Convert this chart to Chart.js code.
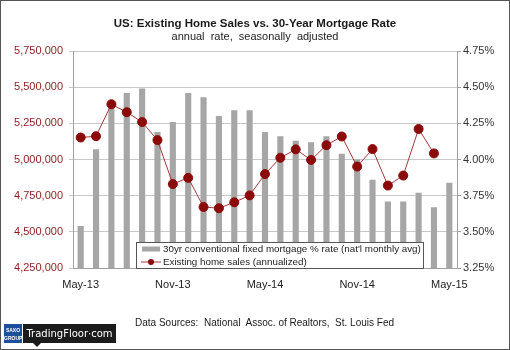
<!DOCTYPE html>
<html>
<head>
<meta charset="utf-8">
<script src="https://cdn.jsdelivr.net/npm/chart.js@4.4.1/dist/chart.umd.min.js"></script>
<style>
  html, body { margin: 0; padding: 0; background: #fff; }
  #wrap { position: relative; width: 510px; height: 350px; overflow: hidden; background: #fff; }
  #chartCanvas { position: absolute; left: 0; top: 0; }
  #frame { position: absolute; left: 0; top: 0; width: 510px; height: 350px; box-sizing: border-box; border: 1px solid #555; pointer-events: none; }
  #source { position: absolute; left: 135px; top: 317px; font: 10px "Liberation Sans", Arial, sans-serif; color: #1a1a1a; white-space: nowrap; }
  #saxo { position: absolute; left: 4px; top: 324px; width: 18px; height: 19px; background: #1d4f9a; color: #fff; font: bold 5px "Liberation Sans", Arial, sans-serif; text-align: center; line-height: 8px; padding-top: 2px; box-sizing: border-box; }
  #tf { position: absolute; left: 23px; top: 324px; width: 93px; height: 19px; background: #1b1b1b; color: #fff; font: 10px "DejaVu Sans", sans-serif; line-height: 19px; text-align: center; }
  #tf:after { content: ""; position: absolute; left: 10px; bottom: -4px; border-left: 4px solid transparent; border-right: 4px solid transparent; border-top: 4px solid #1b1b1b; }
</style>
</head>
<body>
<div id="wrap">
  <canvas id="chartCanvas" width="510" height="350"></canvas>
  <div id="source">Data Sources:&nbsp; National&nbsp; Assoc. of Realtors,&nbsp; St. Louis Fed</div>
  <div id="saxo">SAXO<br>GROUP</div>
  <div id="tf">TradingFloor·com</div>
  <div id="frame"></div>
</div>
<script>
const months = ["May-13", "Jun-13", "Jul-13", "Aug-13", "Sep-13", "Oct-13", "Nov-13", "Dec-13",
  "Jan-14", "Feb-14", "Mar-14", "Apr-14", "May-14", "Jun-14", "Jul-14", "Aug-14", "Sep-14", "Oct-14",
  "Nov-14", "Dec-14", "Jan-15", "Feb-15", "Mar-15", "Apr-15", "May-15"];

// 30yr fixed mortgage rate, % (right axis)
const mortgageRate = [3.54, 4.07, 4.37, 4.46, 4.49, 4.19, 4.26, 4.46, 4.43, 4.30, 4.34, 4.34,
  4.19, 4.16, 4.13, 4.12, 4.16, 4.04, 4.00, 3.86, 3.71, 3.71, 3.77, 3.67, 3.84];

// existing home sales, annualized (left axis)
const homeSales = [5152000, 5161000, 5382000, 5327000, 5259000, 5134000, 4830000, 4873000,
  4672000, 4663000, 4704000, 4752000, 4899000, 5012000, 5070000, 4997000, 5099000, 5159000,
  4951000, 5072000, 4820000, 4889000, 5211000, 5042000, null];

const salesTicks = [4250000, 4500000, 4750000, 5000000, 5250000, 5500000, 5750000];
const rateTicks = [3.25, 3.50, 3.75, 4.00, 4.25, 4.50, 4.75];

const barLabel = "30yr conventional fixed mortgage % rate (nat'l monthly avg)";
const lineLabel = "Existing home sales (annualized)";

const barColor = "#a6a6a6";
const lineColor = "#a33a3a";
const dotColor = "#8b0a0a";

// legend box drawn inside the plot, on top of the bars
const insideLegend = {
  id: "insideLegend",
  afterDatasetsDraw(chart) {
    const ctx = chart.ctx;
    const a = chart.chartArea;
    const x = a.left + 63, w = 287, h = 26;
    const y = a.bottom - h + 0.5;
    ctx.save();
    ctx.fillStyle = "#fff";
    ctx.fillRect(x, y, w, h);
    ctx.strokeStyle = "#555";
    ctx.lineWidth = 1;
    ctx.strokeRect(x + 0.5, y, w, h);
    // bar entry
    ctx.fillStyle = barColor;
    ctx.fillRect(x + 6, y + 4, 18, 5);
    // line entry
    ctx.strokeStyle = lineColor;
    ctx.beginPath();
    ctx.moveTo(x + 5, y + 19.5);
    ctx.lineTo(x + 25, y + 19.5);
    ctx.stroke();
    ctx.fillStyle = dotColor;
    ctx.beginPath();
    ctx.arc(x + 15, y + 19.5, 3, 0, Math.PI * 2);
    ctx.fill();
    ctx.fillStyle = "#222";
    ctx.font = "9.8px 'Liberation Sans', Arial, sans-serif";
    ctx.textBaseline = "middle";
    ctx.fillText(barLabel, x + 27, y + 7);
    ctx.fillText(lineLabel, x + 27, y + 19.5);
    ctx.restore();
  }
};

const tickFont = { family: "'Liberation Sans', Arial, sans-serif", size: 11 };

new Chart(document.getElementById("chartCanvas"), {
  data: {
    labels: months,
    datasets: [
      {
        type: "line",
        label: lineLabel,
        data: homeSales,
        yAxisID: "ySales",
        borderColor: lineColor,
        borderWidth: 1,
        pointBackgroundColor: dotColor,
        pointBorderColor: dotColor,
        pointRadius: 4.5,
        tension: 0,
        order: 0
      },
      {
        type: "bar",
        label: barLabel,
        data: mortgageRate,
        yAxisID: "yRate",
        backgroundColor: barColor,
        barPercentage: 0.4,
        categoryPercentage: 1,
        order: 1
      }
    ]
  },
  options: {
    responsive: false,
    animation: false,
    layout: { padding: { left: 0, right: 0, top: 0, bottom: 0 } },
    plugins: {
      legend: { display: false },
      tooltip: { enabled: false },
      title: {
        display: true,
        text: "US: Existing Home Sales vs. 30-Year Mortgage Rate",
        color: "#1a1a1a",
        font: { family: "'Liberation Sans', Arial, sans-serif", size: 11.5, weight: "bold" },
        padding: { top: 17, bottom: 0 }
      },
      subtitle: {
        display: true,
        text: "annual  rate,  seasonally  adjusted",
        color: "#222",
        font: { family: "'Liberation Sans', Arial, sans-serif", size: 11 },
        padding: { top: 0, bottom: 7 }
      }
    },
    scales: {
      x: {
        offset: true,
        grid: { display: false },
        border: { color: "#a0a0a0" },
        ticks: {
          autoSkip: false,
          maxRotation: 0,
          color: "#222",
          font: tickFont,
          padding: 2,
          callback: (v, i) => (i % 6 === 0 ? months[i] : "")
        },
        afterFit: s => { s.height = 82; }
      },
      ySales: {
        position: "left",
        min: 4250000,
        max: 5750000,
        afterBuildTicks: s => { s.ticks = salesTicks.map(v => ({ value: v })); },
        grid: { color: "#c8c8c8", tickLength: 4 },
        border: { color: "#a0a0a0" },
        ticks: {
          color: "#8b1e1e",
          font: tickFont,
          padding: 6,
          callback: v => v.toLocaleString("en-US")
        },
        afterFit: s => { s.width = 73; }
      },
      yRate: {
        position: "right",
        min: 3.25,
        max: 4.75,
        afterBuildTicks: s => { s.ticks = rateTicks.map(v => ({ value: v })); },
        grid: { drawOnChartArea: false, color: "#a0a0a0", tickLength: 4 },
        border: { color: "#a0a0a0" },
        ticks: {
          color: "#333",
          font: tickFont,
          padding: 2,
          callback: v => v.toFixed(2) + "%"
        },
        afterFit: s => { s.width = 53; }
      }
    }
  },
  plugins: [insideLegend]
});
</script>
</body>
</html>
